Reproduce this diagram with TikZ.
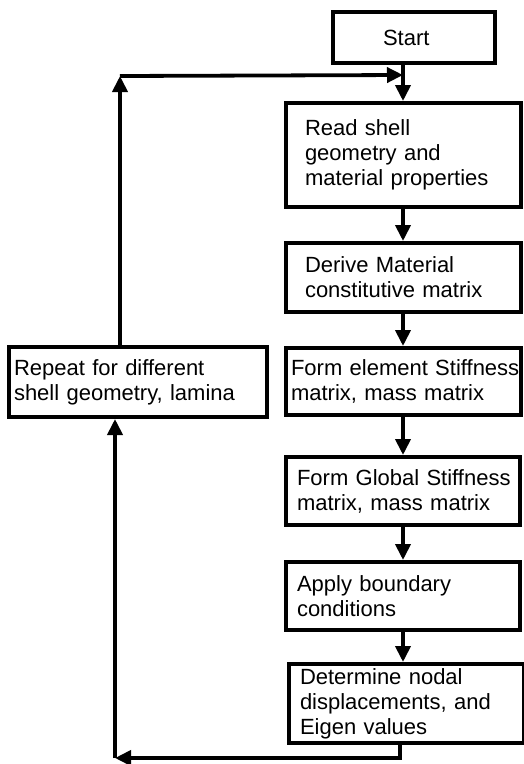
\documentclass[tikz,border=0pt]{standalone}
\usepackage{fontspec}
\setmainfont{Liberation Sans}
\usetikzlibrary{arrows.meta}

\tikzset{
	flowbox/.style={draw, rectangle, line width=4pt, inner ysep=0pt, align=left, font=\fontsize{22}{25}\selectfont, execute at begin node={\hyphenpenalty=10000\hbadness=10000\hfuzz=20pt}},
	flowarrow/.style={-{Triangle[length=16pt,width=15pt]}, line width=3.8pt},
}

\begin{document}
\begin{tikzpicture}[x=1pt, y=-1pt]
	\useasboundingbox (0,0) rectangle (523,764);

	\node[flowbox, text width=62, inner xsep=50, minimum height=51] (start) at (414, 37.5) {Start};

	\node[flowbox, text width=197, inner xsep=19, minimum height=104] (read) at (403.5, 155) {Read shell\\geometry and\\material properties};
	\node[flowbox, text width=197, inner xsep=19, minimum height=69] (derive) at (403.5, 277.5) {Derive Material\\constitutive matrix};
	\node[flowbox, text width=225, inner xsep=5, minimum height=67] (element) at (403.5, 381.5) {Form~element~Stiffness\\matrix, mass matrix};
	\node[flowbox, text width=212, inner xsep=11, minimum height=68] (global) at (403, 491) {Form~Global~Stiffness\\matrix, mass matrix};
	\node[flowbox, text width=212, inner xsep=11, minimum height=68] (apply) at (403, 596) {Apply boundary\\conditions};
	\node[flowbox, text width=213, inner xsep=11, minimum height=79] (determine) at (406.5, 703.5) {Determine nodal\\displacements, and\\Eigen values};

	\node[flowbox, text width=248, inner xsep=5, minimum height=70] (repeat) at (138, 382) {Repeat for different\\shell geometry, lamina};

	\coordinate (loopin) at (403, 75);
	\coordinate (highcorner) at (120, 76);
	\coordinate (lowright) at (400, 758);
	\coordinate (lowcorner) at (115, 758);

	\draw[flowarrow] (start.south -| loopin) -- (read.north -| loopin);
	\draw[flowarrow] (read.south -| loopin) -- (derive.north -| loopin);
	\draw[flowarrow] (derive.south -| loopin) -- (element.north -| loopin);
	\draw[flowarrow] (element.south -| loopin) -- (global.north -| loopin);
	\draw[flowarrow] (global.south -| loopin) -- (apply.north -| loopin);
	\draw[flowarrow] (apply.south -| loopin) -- (determine.north -| loopin);

	\draw[flowarrow] (determine.south -| lowright) -- (lowright) -- (lowcorner);
	\draw[flowarrow] (lowcorner) -- (repeat.south -| lowcorner);
	\draw[flowarrow] (repeat.north -| highcorner) -- (highcorner);
	\draw[flowarrow] (highcorner) -- (loopin);

\end{tikzpicture}
\end{document}
